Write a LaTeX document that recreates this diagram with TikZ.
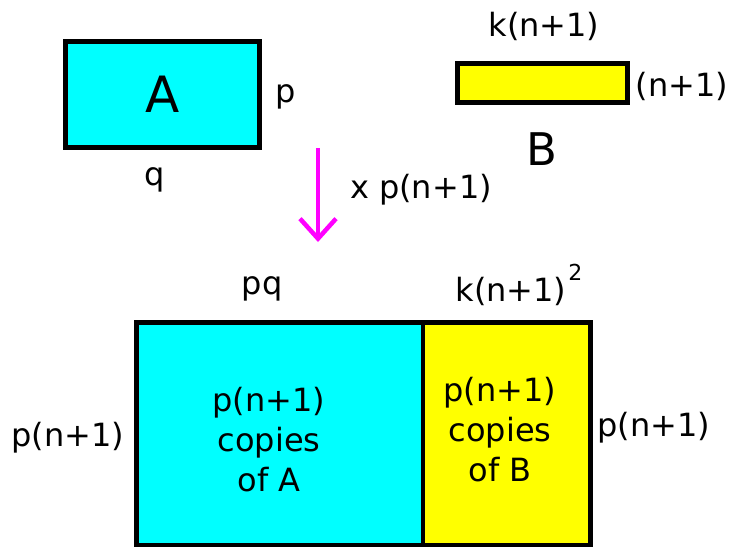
\documentclass[tikz,border=0pt]{standalone}
\usepackage{fontspec}
\setmainfont{DejaVu Sans}
\usepackage{xcolor}
\usetikzlibrary{arrows.meta,positioning}
\definecolor{boxcyan}{HTML}{00FFFF}
\definecolor{boxyellow}{HTML}{FFFF00}
\definecolor{arrowpink}{HTML}{FF00FF}

\begin{document}
\begin{tikzpicture}[x=1pt, y=-1pt,
  every node/.style={font=\fontsize{32}{40}\selectfont, inner sep=0pt},
  block/.style={draw, line width=4.5pt},
  lbl/.style={anchor=base},
]
\useasboundingbox (0,0) rectangle (734,547);
% the two pieces
\node[block, fill=boxcyan, minimum width=194pt, minimum height=106pt,
  font=\fontsize{50}{60}\selectfont] (a) at (162.5,94.5) {A};
\node[block, fill=boxyellow, minimum width=170pt, minimum height=39pt] (b) at (542.5,83) {};
\node[lbl] (p) at (286,102) {p};
\node[lbl] (q) at (155,185) {q};
\node[lbl] (kn) at (544,36) {k(n+1)};
\node[lbl] (n1) at (682,96) {(n+1)};
\node[lbl, font=\fontsize{45}{50}\selectfont] (blabel) at (542,165) {B};
% scaling step
\coordinate (arrtop) at (318,148);
\coordinate (arrbot) at (318,242);
\draw[arrowpink, line width=4.5pt, -{Straight Barb[length=20pt,width=36pt]}] (arrtop) -- (arrbot);
\node[lbl] (factor) at (421,198) {x p(n+1)};
% the combined rectangle
\node[block, fill=boxcyan, minimum width=286.5pt, minimum height=222.5pt] (ca) at (279.75,433.75) {};
\node[block, fill=boxyellow, minimum width=167.5pt, minimum height=222.5pt] (cb) at (506.75,433.75) {};
\node[align=center] (catext) at (269,439.5) {p(n+1)\\copies\\of A};
\node[align=center] (cbtext) at (500,429.5) {p(n+1)\\copies\\of B};
\node[lbl] (pq) at (262,294) {pq};
\node[lbl] (kn2) at (519,301) {k(n+1)\hspace{2pt}\raisebox{21pt}{\fontsize{22}{22}\selectfont 2}};
\node[lbl] (left) at (68,446) {p(n+1)};
\node[lbl] (right) at (654,436) {p(n+1)};
\end{tikzpicture}
\end{document}
